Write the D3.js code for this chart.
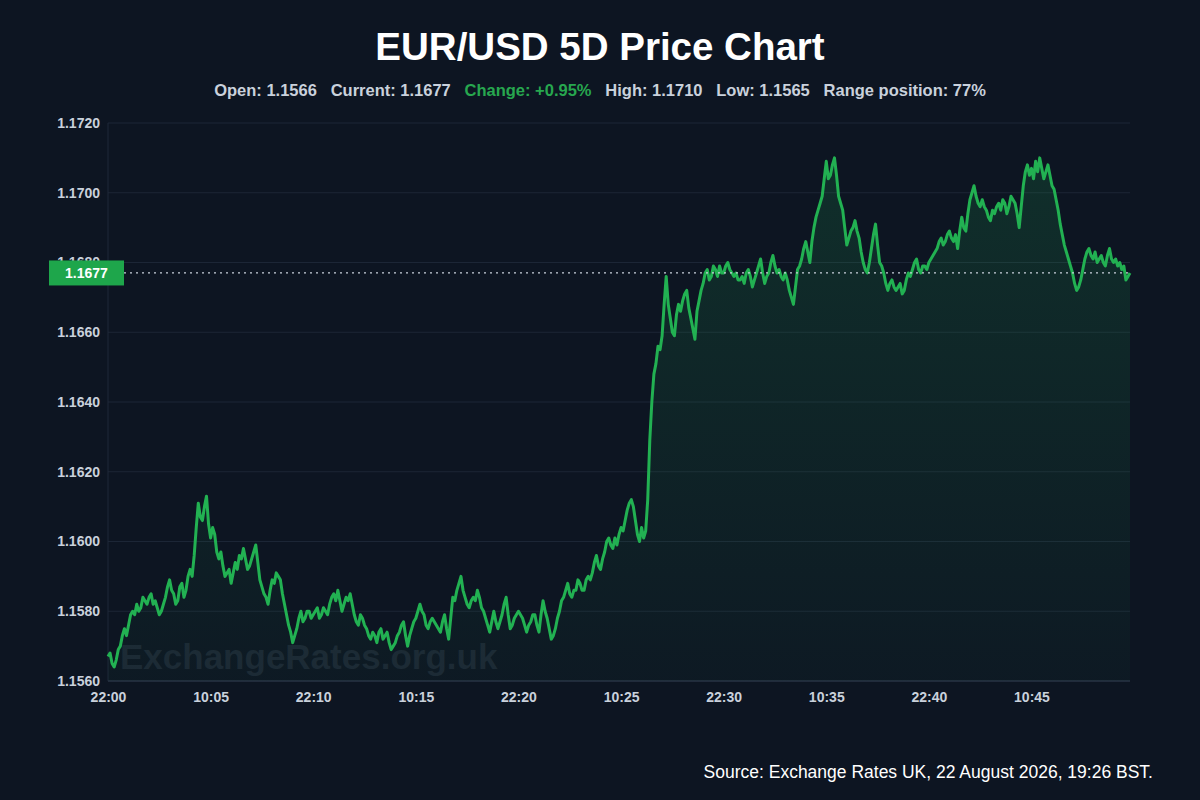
<!DOCTYPE html>
<html>
<head>
<meta charset="utf-8">
<script src="https://cdn.jsdelivr.net/npm/d3@7.9.0/dist/d3.min.js"></script>
<style>
  html, body { margin: 0; padding: 0; background: #0d1522; }
  svg { display: block; font-family: "Liberation Sans", Arial, sans-serif; }
</style>
</head>
<body>
<svg id="chart" width="1200" height="800"></svg>
<script>
// tick labels on the time axis (one every 50 samples)
const timeLabels = ['22:00', '10:05', '22:10', '10:15', '22:20', '10:25', '22:30', '10:35', '22:40', '10:45'];
const tickEvery = 50;

// price samples
const prices = [
  1.1567, 1.1568, 1.1565, 1.1564, 1.1566, 1.1569, 1.1570, 1.1573, 1.1575, 1.1573,
  1.1576, 1.1579, 1.1580, 1.1579, 1.1582, 1.1580, 1.1581, 1.1584, 1.1583, 1.1582,
  1.1584, 1.1585, 1.1582, 1.1583, 1.1581, 1.1579, 1.1580, 1.1582, 1.1584, 1.1587,
  1.1589, 1.1586, 1.1585, 1.1582, 1.1583, 1.1587, 1.1588, 1.1584, 1.1586, 1.1590,
  1.1592, 1.1590, 1.1596, 1.1604, 1.1611, 1.1607, 1.1606, 1.1610, 1.1613, 1.1605,
  1.1601, 1.1604, 1.1602, 1.1597, 1.1595, 1.1597, 1.1593, 1.1590, 1.1591, 1.1592,
  1.1588, 1.1591, 1.1594, 1.1592, 1.1596, 1.1595, 1.1598, 1.1595, 1.1592, 1.1593,
  1.1595, 1.1597, 1.1599, 1.1594, 1.1589, 1.1587, 1.1585, 1.1584, 1.1582, 1.1586,
  1.1589, 1.1588, 1.1591, 1.1590, 1.1589, 1.1585, 1.1582, 1.1579, 1.1576, 1.1574,
  1.1571, 1.1573, 1.1575, 1.1578, 1.1580, 1.1577, 1.1578, 1.1580, 1.1580, 1.1578,
  1.1579, 1.1580, 1.1581, 1.1578, 1.1579, 1.1581, 1.1580, 1.1579, 1.1582, 1.1584,
  1.1585, 1.1583, 1.1586, 1.1583, 1.1580, 1.1582, 1.1584, 1.1583, 1.1585, 1.1582,
  1.1579, 1.1577, 1.1576, 1.1579, 1.1578, 1.1576, 1.1575, 1.1573, 1.1572, 1.1574,
  1.1573, 1.1571, 1.1574, 1.1575, 1.1572, 1.1573, 1.1574, 1.1571, 1.1569, 1.1570,
  1.1571, 1.1573, 1.1574, 1.1576, 1.1577, 1.1573, 1.1570, 1.1573, 1.1575, 1.1577,
  1.1578, 1.1580, 1.1582, 1.1580, 1.1579, 1.1576, 1.1575, 1.1577, 1.1578, 1.1577,
  1.1576, 1.1575, 1.1574, 1.1577, 1.1579, 1.1575, 1.1572, 1.1578, 1.1584, 1.1583,
  1.1586, 1.1588, 1.1590, 1.1586, 1.1584, 1.1582, 1.1581, 1.1583, 1.1584, 1.1583,
  1.1586, 1.1584, 1.1581, 1.1580, 1.1578, 1.1576, 1.1574, 1.1577, 1.1580, 1.1577,
  1.1575, 1.1577, 1.1579, 1.1582, 1.1584, 1.1579, 1.1575, 1.1576, 1.1578, 1.1579,
  1.1580, 1.1579, 1.1578, 1.1576, 1.1574, 1.1576, 1.1577, 1.1579, 1.1579, 1.1576,
  1.1574, 1.1579, 1.1583, 1.1580, 1.1578, 1.1575, 1.1572, 1.1573, 1.1575, 1.1578,
  1.1580, 1.1583, 1.1584, 1.1586, 1.1588, 1.1585, 1.1584, 1.1586, 1.1586, 1.1589,
  1.1588, 1.1586, 1.1586, 1.1589, 1.1590, 1.1589, 1.1591, 1.1594, 1.1596, 1.1593,
  1.1592, 1.1595, 1.1597, 1.1600, 1.1601, 1.1599, 1.1598, 1.1601, 1.1599, 1.1602,
  1.1604, 1.1603, 1.1606, 1.1609, 1.1611, 1.1612, 1.1610, 1.1606, 1.1602, 1.1600,
  1.1604, 1.1601, 1.1603, 1.1612, 1.1629, 1.1640, 1.1648, 1.1651, 1.1656, 1.1655,
  1.1659, 1.1668, 1.1676, 1.1668, 1.1664, 1.1660, 1.1659, 1.1665, 1.1668, 1.1666,
  1.1669, 1.1671, 1.1672, 1.1667, 1.1664, 1.1661, 1.1658, 1.1666, 1.1669, 1.1672,
  1.1674, 1.1677, 1.1678, 1.1675, 1.1676, 1.1679, 1.1678, 1.1676, 1.1679, 1.1677,
  1.1677, 1.1679, 1.1680, 1.1678, 1.1677, 1.1676, 1.1677, 1.1675, 1.1675, 1.1676,
  1.1674, 1.1677, 1.1678, 1.1676, 1.1673, 1.1675, 1.1677, 1.1679, 1.1681, 1.1677,
  1.1674, 1.1676, 1.1677, 1.1680, 1.1682, 1.1679, 1.1677, 1.1678, 1.1676, 1.1675,
  1.1677, 1.1675, 1.1672, 1.1670, 1.1668, 1.1673, 1.1678, 1.1679, 1.1681, 1.1684,
  1.1686, 1.1683, 1.1680, 1.1686, 1.1690, 1.1693, 1.1695, 1.1697, 1.1699, 1.1704,
  1.1709, 1.1704, 1.1705, 1.1708, 1.1710, 1.1705, 1.1699, 1.1697, 1.1695, 1.1690,
  1.1685, 1.1687, 1.1689, 1.1690, 1.1692, 1.1689, 1.1687, 1.1683, 1.1680, 1.1678,
  1.1677, 1.1680, 1.1684, 1.1688, 1.1691, 1.1685, 1.1680, 1.1679, 1.1677, 1.1674,
  1.1672, 1.1674, 1.1675, 1.1673, 1.1672, 1.1673, 1.1674, 1.1671, 1.1672, 1.1675,
  1.1677, 1.1676, 1.1678, 1.1680, 1.1681, 1.1678, 1.1677, 1.1679, 1.1679, 1.1678,
  1.1680, 1.1681, 1.1682, 1.1683, 1.1684, 1.1686, 1.1687, 1.1685, 1.1686, 1.1688,
  1.1689, 1.1687, 1.1686, 1.1688, 1.1684, 1.1689, 1.1693, 1.1690, 1.1689, 1.1694,
  1.1698, 1.1700, 1.1702, 1.1699, 1.1697, 1.1696, 1.1698, 1.1696, 1.1695, 1.1693,
  1.1692, 1.1695, 1.1694, 1.1696, 1.1697, 1.1695, 1.1698, 1.1697, 1.1694, 1.1696,
  1.1699, 1.1698, 1.1697, 1.1694, 1.1690, 1.1696, 1.1702, 1.1706, 1.1708, 1.1705,
  1.1707, 1.1704, 1.1709, 1.1706, 1.1710, 1.1707, 1.1704, 1.1706, 1.1708, 1.1705,
  1.1702, 1.1701, 1.1698, 1.1695, 1.1691, 1.1688, 1.1685, 1.1683, 1.1681, 1.1679,
  1.1677, 1.1674, 1.1672, 1.1673, 1.1675, 1.1678, 1.1681, 1.1683, 1.1684, 1.1682,
  1.1681, 1.1683, 1.1680, 1.1681, 1.1682, 1.1680, 1.1679, 1.1682, 1.1684, 1.1681,
  1.1680, 1.1681, 1.1679, 1.1680, 1.1678, 1.1679, 1.1675, 1.1676, 1.1677
];

const yTicks = [1.1560, 1.1580, 1.1600, 1.1620, 1.1640, 1.1660, 1.1680, 1.1700, 1.1720];

const openPrice = 1.1566, currentPrice = 1.1677, highPrice = 1.1710, lowPrice = 1.1565;
const changePct = '+0.95%', rangePos = '77%';

const W = 1200, H = 800;
const margin = { top: 123, right: 70, bottom: 119, left: 108 };
const svg = d3.select('#chart');

svg.append('rect').attr('width', W).attr('height', H).attr('fill', '#0d1522');

const x = d3.scaleLinear().domain([0, prices.length - 1]).range([margin.left, W - margin.right]);
const y = d3.scaleLinear().domain([1.1560, 1.1720]).range([H - margin.bottom, margin.top]);

// gradient for the area under the line
const defs = svg.append('defs');
const grad = defs.append('linearGradient').attr('id', 'areaGrad')
  .attr('x1', 0).attr('y1', 0).attr('x2', 0).attr('y2', 1);
grad.append('stop').attr('offset', '0%').attr('stop-color', '#1fae55').attr('stop-opacity', 0.17);
grad.append('stop').attr('offset', '100%').attr('stop-color', '#1fae55').attr('stop-opacity', 0.03);

// horizontal grid
svg.append('g').selectAll('line').data(yTicks).join('line')
  .attr('x1', margin.left).attr('x2', W - margin.right)
  .attr('y1', d => y(d)).attr('y2', d => y(d))
  .attr('stroke', '#1c2636').attr('stroke-width', 1);

// left and bottom axis lines
svg.append('line').attr('x1', margin.left).attr('x2', margin.left)
  .attr('y1', margin.top).attr('y2', H - margin.bottom)
  .attr('stroke', '#1e2838');
svg.append('line').attr('x1', margin.left).attr('x2', W - margin.right)
  .attr('y1', H - margin.bottom).attr('y2', H - margin.bottom)
  .attr('stroke', '#263142').attr('stroke-width', 1.5);

// watermark
svg.append('text').attr('x', 120).attr('y', 669)
  .attr('font-size', 35).attr('font-weight', 'bold')
  .attr('fill', '#1c2634')
  .text('ExchangeRates.org.uk');

// y axis labels
const yAxis = d3.axisLeft(y).tickValues(yTicks).tickFormat(d3.format('.4f')).tickSize(0).tickPadding(8);
const gy = svg.append('g').attr('transform', `translate(${margin.left},0)`).call(yAxis);
gy.select('.domain').remove();
gy.selectAll('text').attr('fill', '#c9d1dc').attr('font-size', 14).attr('font-weight', 'bold')
  .attr('font-family', '"Liberation Sans", Arial, sans-serif');

// x axis labels
const xTickVals = timeLabels.map((_, i) => i * tickEvery);
const xAxis = d3.axisBottom(x).tickValues(xTickVals).tickFormat((d, i) => timeLabels[i]).tickSize(0).tickPadding(11);
const gx = svg.append('g').attr('transform', `translate(0,${H - margin.bottom})`).call(xAxis);
gx.select('.domain').remove();
gx.selectAll('text').attr('fill', '#c9d1dc').attr('font-size', 14).attr('font-weight', 'bold')
  .attr('font-family', '"Liberation Sans", Arial, sans-serif');

// area + line
const area = d3.area().x((d, i) => x(i)).y0(H - margin.bottom).y1(d => y(d));
svg.append('path').datum(prices).attr('d', area).attr('fill', 'url(#areaGrad)');

const line = d3.line().x((d, i) => x(i)).y(d => y(d));
svg.append('path').datum(prices).attr('d', line)
  .attr('fill', 'none').attr('stroke', '#22b152').attr('stroke-width', 3)
  .attr('stroke-linejoin', 'round');

// current price marker
svg.append('line')
  .attr('x1', 124).attr('x2', W - margin.right)
  .attr('y1', y(currentPrice)).attr('y2', y(currentPrice))
  .attr('stroke', '#c9d1dc').attr('stroke-width', 1.2).attr('stroke-dasharray', '2,4');
svg.append('rect').attr('x', 49).attr('y', y(currentPrice) - 12.5).attr('width', 75).attr('height', 25)
  .attr('fill', '#1ea64b');
svg.append('text').attr('x', 86.5).attr('y', y(currentPrice) + 5)
  .attr('text-anchor', 'middle').attr('font-size', 14).attr('font-weight', 'bold')
  .attr('fill', '#ffffff').text(currentPrice.toFixed(4));

// title
svg.append('text').attr('x', W / 2).attr('y', 60).attr('text-anchor', 'middle')
  .attr('font-size', 38.5).attr('font-weight', 'bold').attr('fill', '#ffffff')
  .text('EUR/USD 5D Price Chart');

// stats line
const stats = svg.append('text').attr('x', W / 2).attr('y', 96).attr('text-anchor', 'middle')
  .attr('font-size', 16.5).attr('font-weight', 'bold').attr('fill', '#c9d1dc')
  .attr('xml:space', 'preserve');
stats.append('tspan').text(`Open: ${openPrice.toFixed(4)}   Current: ${currentPrice.toFixed(4)}   `);
stats.append('tspan').attr('fill', '#27a74f').text(`Change: ${changePct}`);
stats.append('tspan').text(`   High: ${highPrice.toFixed(4)}   Low: ${lowPrice.toFixed(4)}   Range position: ${rangePos}`);

// source
svg.append('text').attr('x', 1153).attr('y', 778).attr('text-anchor', 'end')
  .attr('font-size', 17.5).attr('fill', '#ffffff')
  .text('Source: Exchange Rates UK, 22 August 2026, 19:26 BST.');
</script>
</body>
</html>
